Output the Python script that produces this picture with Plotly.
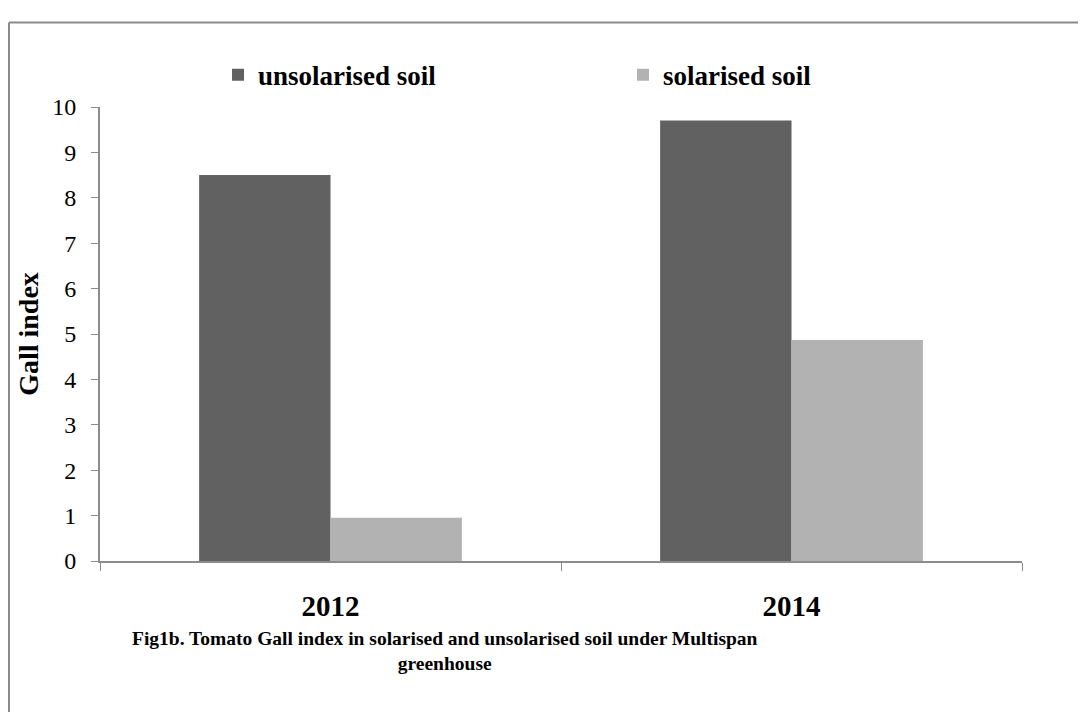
from plotly import graph_objects as go

# chart data
years = ['2012', '2014']
unsolarised = [8.5, 9.7]
solarised = [0.95, 4.87]
y_ticks = list(range(0, 11))

caption = ('Fig1b. Tomato Gall index in solarised and unsolarised soil under Multispan'
           '<br>greenhouse')

FONT = 'Liberation Serif, Times New Roman, serif'
AXIS_GREY = '#8c8c8c'

fig = go.Figure()

fig.add_trace(go.Bar(x=years,
                     y=unsolarised,
                     name='<b>unsolarised soil</b>',
                     marker=dict(color='#616161', line=dict(width=0))))

fig.add_trace(go.Bar(x=years,
                     y=solarised,
                     name='<b>solarised soil</b>',
                     marker=dict(color='#b2b2b2', line=dict(width=0))))

fig.update_xaxes(showline=True,
                 linecolor=AXIS_GREY,
                 linewidth=2,
                 ticks='outside',
                 tickson='boundaries',
                 ticklen=8,
                 tickcolor=AXIS_GREY,
                 tickwidth=1,
                 ticklabelstandoff=18,
                 tickfont=dict(family=FONT, size=29, color='black', weight='bold'),
                 showgrid=False)

fig.update_yaxes(range=[0, 10],
                 tickvals=y_ticks,
                 showline=True,
                 linecolor=AXIS_GREY,
                 linewidth=2,
                 ticks='outside',
                 ticklen=7,
                 tickcolor=AXIS_GREY,
                 tickwidth=1,
                 ticklabelstandoff=10,
                 tickfont=dict(family=FONT, size=24, color='black'),
                 showgrid=False,
                 zeroline=False,
                 title=dict(text='<b>Gall index</b>',
                            font=dict(family=FONT, size=28, color='black'),
                            standoff=5))

# frame round the figure (left and top edges visible)
fig.add_shape(type='line', xref='paper', yref='paper',
              x0=-0.0987, x1=-0.0987, y0=-0.4, y1=1.186,
              line=dict(color='#8a8a8a', width=2))
fig.add_shape(type='line', xref='paper', yref='paper',
              x0=-0.0987, x1=1.2, y0=1.186, y1=1.186,
              line=dict(color='#8a8a8a', width=2))

fig.add_annotation(text='<b>' + caption + '</b>',
                   xref='paper', yref='paper',
                   x=0.374, y=-0.253,
                   showarrow=False,
                   align='center',
                   font=dict(family=FONT, size=19.5, color='black'))

# page body adds an 8px margin, so the figure is 8px smaller than the window
fig.update_layout(width=1078,
                  height=704,
                  margin=dict(l=92, r=64, t=99, b=151),
                  barmode='group',
                  bargap=0.43,
                  bargroupgap=0,
                  plot_bgcolor='white',
                  paper_bgcolor='white',
                  font=dict(family=FONT, color='black'),
                  legend=dict(orientation='h',
                              x=0.128, xanchor='left',
                              y=1.07, yanchor='middle',
                              entrywidth=360,
                              entrywidthmode='pixels',
                              itemsizing='constant',
                              bgcolor='rgba(0,0,0,0)',
                              font=dict(family=FONT, size=27, color='black')))

fig.write_html("out.html")
